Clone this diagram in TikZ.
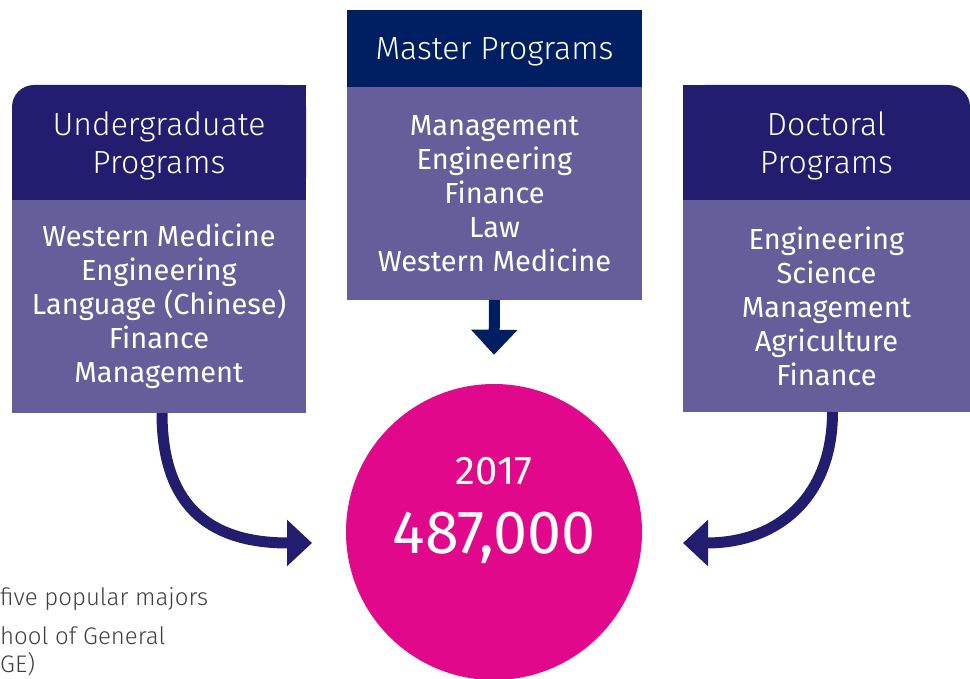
\documentclass[tikz,border=0pt]{standalone}
\usepackage{fontspec}
\setmainfont{Fira Sans}
\newfontfamily\lightfont{Fira Sans Light}
\usepackage{xcolor}
\usepackage{tikz}
\usetikzlibrary{arrows.meta, positioning, backgrounds}

\definecolor{ugnavy}{HTML}{221D6E}
\definecolor{msnavy}{HTML}{001E62}
\definecolor{listpurple}{HTML}{655E9A}
\definecolor{totalpink}{HTML}{E1088C}
\definecolor{notegray}{HTML}{404040}

\begin{document}
\begin{tikzpicture}[x=1pt, y=-1pt]
\tikzstyle{header} = [rectangle, align=center, text=white, inner sep=0pt, outer sep=0pt, text depth=0pt, font=\lightfont\fontsize{32}{38}\selectfont]
\tikzstyle{list} = [rectangle, align=center, text=white, fill=listpurple, inner sep=0pt, outer sep=0pt, font=\fontsize{29}{34}\selectfont]
\tikzstyle{bend arrow} = [draw=ugnavy, line width=11pt, -{Triangle[width=45pt,length=25pt]}]
\tikzstyle{down arrow} = [draw=msnavy, line width=11pt, -{Triangle[width=45pt,length=25pt]}]
\tikzstyle{note} = [anchor=west, align=left, inner sep=0pt, text=notegray, font=\lightfont\fontsize{24}{28}\selectfont]

\useasboundingbox (0,0) rectangle (970,679);

% the three program columns
\node (ughead) [header, minimum width=294pt, minimum height=115pt] at (159,142.5) {Undergraduate\\Programs};
\node (uglist) [list, below=0pt of ughead, minimum width=294pt, minimum height=213pt] {Western Medicine\\Engineering\\Language (Chinese)\\Finance\\Management};

\node (mshead) [header, fill=msnavy, minimum width=295pt, minimum height=77pt] at (494.5,48.5) {Master Programs};
\node (mslist) [list, below=0pt of mshead, minimum width=295pt, minimum height=213pt] {Management\\Engineering\\Finance\\Law\\Western Medicine};

\node (drhead) [header, minimum width=287pt, minimum height=115pt] at (826.5,142.5) {Doctoral\\Programs};
\node (drlist) [list, below=0pt of drhead, minimum width=287pt, minimum height=212pt] {Engineering\\Science\\Management\\Agriculture\\Finance};

\begin{scope}[on background layer]
\fill [ugnavy, rounded corners=22pt] (ughead.south west) rectangle (ughead.north east);
\fill [ugnavy] (ughead.north) rectangle (ughead.south east);
\fill [ugnavy] (ughead.west) rectangle (ughead.south);
\fill [ugnavy, rounded corners=22pt] (drhead.south west) rectangle (drhead.north east);
\fill [ugnavy] (drhead.north west) rectangle (drhead.south);
\fill [ugnavy] (drhead.south) rectangle (drhead.east);
\end{scope}

% total
\node (total) [circle, fill=totalpink, minimum size=296pt, inner sep=0pt] at (494,532) {};
\node (year) [text=white, font=\fontsize{40}{44}\selectfont] at ([yshift=61pt]total.center) {2017};
\node (count) [text=white, font=\fontsize{61}{66}\selectfont] at ([yshift=-6pt]total.center) {487,000};

\coordinate (ugtip) at (312,543);
\coordinate (drtip) at (683,543);

\draw [down arrow] (mslist.south) -- ([yshift=29pt]total.north);
\draw [bend arrow] ([xshift=3pt]uglist.south) .. controls +(0,100) and +(-95,0) .. (ugtip);
\draw [bend arrow] ([xshift=6pt]drlist.south) .. controls +(0,85) and +(95,0) .. (drtip);

% notes, cut at the left edge
\node (note1) [note] at (0,599) {five popular majors};
\node (note2) [note] at (0,651) {hool of General\\GE)};

\end{tikzpicture}
\end{document}
